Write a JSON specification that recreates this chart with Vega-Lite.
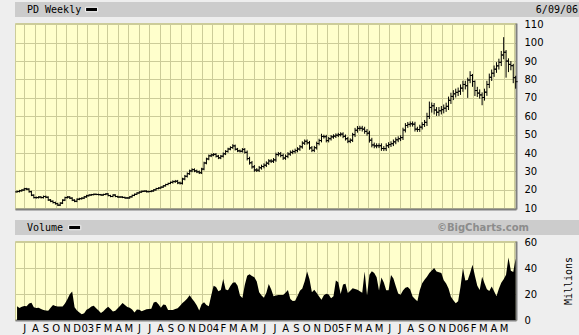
{
"$schema":"https://vega.github.io/schema/vega-lite/v6.json",
"background":"#eeeeee",
"padding":{"left":2,"top":2,"right":2,"bottom":5},
"datasets":{"w":[
{"d":"2002-06-10","o":18.9,"h":19.6,"l":18.4,"c":19.1,"v":10.6},
{"d":"2002-06-17","o":19.1,"h":20.0,"l":18.6,"c":19.5,"v":9.2},
{"d":"2002-06-24","o":19.5,"h":20.4,"l":19.0,"c":19.9,"v":10.3},
{"d":"2002-07-01","o":19.9,"h":21.1,"l":19.4,"c":20.6,"v":10.8},
{"d":"2002-07-08","o":20.6,"h":21.1,"l":19.9,"c":20.4,"v":10.7},
{"d":"2002-07-15","o":20.4,"h":20.9,"l":18.5,"c":19.0,"v":12.8},
{"d":"2002-07-22","o":19.0,"h":19.5,"l":16.6,"c":17.1,"v":13.4},
{"d":"2002-07-29","o":17.1,"h":17.6,"l":15.3,"c":15.8,"v":9.9},
{"d":"2002-08-05","o":15.8,"h":16.4,"l":15.2,"c":15.8,"v":9.2},
{"d":"2002-08-12","o":15.8,"h":16.6,"l":15.3,"c":16.1,"v":9.4},
{"d":"2002-08-19","o":16.1,"h":16.6,"l":15.3,"c":15.8,"v":8.5},
{"d":"2002-08-26","o":15.8,"h":16.9,"l":15.3,"c":16.4,"v":7.7},
{"d":"2002-09-02","o":16.4,"h":16.9,"l":15.5,"c":16.0,"v":7.3},
{"d":"2002-09-09","o":16.0,"h":16.5,"l":14.0,"c":14.5,"v":7.1},
{"d":"2002-09-16","o":14.5,"h":15.0,"l":13.3,"c":13.8,"v":9.4},
{"d":"2002-09-23","o":13.8,"h":14.3,"l":12.6,"c":13.1,"v":11.6},
{"d":"2002-09-30","o":13.1,"h":13.6,"l":12.0,"c":12.5,"v":10.8},
{"d":"2002-10-07","o":12.5,"h":13.0,"l":11.2,"c":11.7,"v":10.5},
{"d":"2002-10-14","o":11.7,"h":13.3,"l":11.2,"c":12.8,"v":10.4},
{"d":"2002-10-21","o":12.8,"h":14.9,"l":12.3,"c":14.4,"v":10.4},
{"d":"2002-10-28","o":14.4,"h":16.3,"l":13.9,"c":15.8,"v":12.8},
{"d":"2002-11-04","o":15.8,"h":16.6,"l":15.3,"c":16.1,"v":16.0},
{"d":"2002-11-11","o":16.1,"h":16.6,"l":15.0,"c":15.5,"v":19.8},
{"d":"2002-11-18","o":15.5,"h":16.0,"l":13.9,"c":14.4,"v":22.0},
{"d":"2002-11-25","o":14.4,"h":14.9,"l":13.3,"c":13.8,"v":9.8},
{"d":"2002-12-02","o":13.8,"h":15.4,"l":13.3,"c":14.9,"v":7.4},
{"d":"2002-12-09","o":14.9,"h":15.7,"l":14.4,"c":15.2,"v":5.8},
{"d":"2002-12-16","o":15.2,"h":16.0,"l":14.7,"c":15.5,"v":4.5},
{"d":"2002-12-23","o":15.5,"h":16.7,"l":15.0,"c":16.2,"v":5.2},
{"d":"2002-12-30","o":16.2,"h":17.3,"l":15.7,"c":16.8,"v":7.9},
{"d":"2003-01-06","o":16.8,"h":17.6,"l":16.4,"c":17.2,"v":8.9},
{"d":"2003-01-13","o":17.2,"h":17.8,"l":16.8,"c":17.4,"v":10.4},
{"d":"2003-01-20","o":17.4,"h":18.0,"l":17.0,"c":17.6,"v":11.0},
{"d":"2003-01-27","o":17.6,"h":18.0,"l":17.1,"c":17.5,"v":9.0},
{"d":"2003-02-03","o":17.5,"h":17.9,"l":17.0,"c":17.4,"v":7.4},
{"d":"2003-02-10","o":17.4,"h":17.8,"l":16.8,"c":17.2,"v":5.4},
{"d":"2003-02-17","o":17.2,"h":17.9,"l":16.8,"c":17.5,"v":6.8},
{"d":"2003-02-24","o":17.5,"h":18.2,"l":17.1,"c":17.8,"v":8.7},
{"d":"2003-03-03","o":17.8,"h":18.2,"l":16.5,"c":16.9,"v":10.2},
{"d":"2003-03-10","o":16.9,"h":17.3,"l":16.0,"c":16.4,"v":8.4},
{"d":"2003-03-17","o":16.4,"h":17.6,"l":16.0,"c":17.2,"v":6.5},
{"d":"2003-03-24","o":17.2,"h":17.6,"l":16.0,"c":16.4,"v":7.2},
{"d":"2003-03-31","o":16.4,"h":16.8,"l":15.7,"c":16.1,"v":9.0},
{"d":"2003-04-07","o":16.1,"h":16.5,"l":15.7,"c":16.1,"v":11.0},
{"d":"2003-04-14","o":16.1,"h":16.5,"l":15.5,"c":15.9,"v":13.2},
{"d":"2003-04-21","o":15.9,"h":16.3,"l":15.2,"c":15.6,"v":11.6},
{"d":"2003-04-28","o":15.6,"h":16.0,"l":15.2,"c":15.6,"v":10.1},
{"d":"2003-05-05","o":15.6,"h":16.6,"l":15.2,"c":16.2,"v":9.5},
{"d":"2003-05-12","o":16.2,"h":17.4,"l":15.8,"c":17.0,"v":8.2},
{"d":"2003-05-19","o":17.0,"h":18.0,"l":16.6,"c":17.6,"v":5.7},
{"d":"2003-05-26","o":17.6,"h":18.7,"l":17.2,"c":18.3,"v":8.1},
{"d":"2003-06-02","o":18.3,"h":19.2,"l":17.9,"c":18.8,"v":8.0},
{"d":"2003-06-09","o":18.8,"h":19.6,"l":18.4,"c":19.2,"v":6.7},
{"d":"2003-06-16","o":19.2,"h":19.7,"l":18.8,"c":19.3,"v":7.6},
{"d":"2003-06-23","o":19.3,"h":19.7,"l":18.6,"c":19.0,"v":8.3},
{"d":"2003-06-30","o":19.0,"h":19.5,"l":18.6,"c":19.1,"v":8.4},
{"d":"2003-07-07","o":19.1,"h":19.8,"l":18.7,"c":19.4,"v":8.7},
{"d":"2003-07-14","o":19.4,"h":20.4,"l":19.0,"c":20.0,"v":13.5},
{"d":"2003-07-21","o":20.0,"h":21.1,"l":19.6,"c":20.7,"v":14.1},
{"d":"2003-07-28","o":20.7,"h":21.4,"l":20.3,"c":21.0,"v":12.1},
{"d":"2003-08-04","o":21.0,"h":21.9,"l":20.6,"c":21.5,"v":9.4},
{"d":"2003-08-11","o":21.5,"h":22.6,"l":21.1,"c":22.2,"v":11.9},
{"d":"2003-08-18","o":22.2,"h":23.3,"l":21.8,"c":22.9,"v":11.6},
{"d":"2003-08-25","o":22.9,"h":23.9,"l":22.5,"c":23.5,"v":7.8},
{"d":"2003-09-01","o":23.5,"h":24.5,"l":23.1,"c":24.1,"v":7.8},
{"d":"2003-09-08","o":24.1,"h":25.2,"l":23.4,"c":24.5,"v":7.8},
{"d":"2003-09-15","o":24.5,"h":25.4,"l":23.8,"c":24.7,"v":8.4},
{"d":"2003-09-22","o":24.7,"h":25.4,"l":23.1,"c":23.8,"v":9.1},
{"d":"2003-09-29","o":23.8,"h":24.5,"l":22.9,"c":23.6,"v":11.0},
{"d":"2003-10-06","o":23.6,"h":26.6,"l":22.9,"c":25.9,"v":13.2},
{"d":"2003-10-13","o":25.9,"h":28.1,"l":25.2,"c":27.4,"v":14.7},
{"d":"2003-10-20","o":27.4,"h":29.5,"l":26.7,"c":28.8,"v":16.6},
{"d":"2003-10-27","o":28.8,"h":31.0,"l":28.1,"c":30.3,"v":19.2},
{"d":"2003-11-03","o":30.3,"h":31.7,"l":29.6,"c":31.0,"v":16.4},
{"d":"2003-11-10","o":31.0,"h":31.7,"l":29.6,"c":30.3,"v":14.0},
{"d":"2003-11-17","o":30.3,"h":31.0,"l":29.1,"c":29.8,"v":11.2},
{"d":"2003-11-24","o":29.8,"h":30.5,"l":28.6,"c":29.3,"v":7.4},
{"d":"2003-12-01","o":29.3,"h":32.0,"l":28.6,"c":31.3,"v":12.1},
{"d":"2003-12-08","o":31.3,"h":35.3,"l":30.6,"c":34.6,"v":13.8},
{"d":"2003-12-15","o":34.6,"h":37.5,"l":33.9,"c":36.8,"v":11.5},
{"d":"2003-12-22","o":36.8,"h":39.2,"l":36.1,"c":38.5,"v":10.6},
{"d":"2003-12-29","o":38.5,"h":39.7,"l":37.8,"c":39.0,"v":19.0},
{"d":"2004-01-05","o":39.0,"h":40.0,"l":38.3,"c":39.3,"v":26.4},
{"d":"2004-01-12","o":39.3,"h":40.0,"l":37.6,"c":38.3,"v":25.4},
{"d":"2004-01-19","o":38.3,"h":39.0,"l":36.7,"c":37.4,"v":22.2},
{"d":"2004-01-26","o":37.4,"h":39.0,"l":36.7,"c":38.3,"v":23.2},
{"d":"2004-02-02","o":38.3,"h":40.3,"l":37.6,"c":39.6,"v":31.7},
{"d":"2004-02-09","o":39.6,"h":41.6,"l":38.9,"c":40.9,"v":23.5},
{"d":"2004-02-16","o":40.9,"h":42.9,"l":40.2,"c":42.2,"v":23.0},
{"d":"2004-02-23","o":42.2,"h":43.7,"l":41.5,"c":43.0,"v":26.2},
{"d":"2004-03-01","o":43.0,"h":44.8,"l":42.3,"c":43.9,"v":28.8},
{"d":"2004-03-08","o":43.9,"h":44.6,"l":41.4,"c":42.1,"v":29.2},
{"d":"2004-03-15","o":42.1,"h":42.8,"l":40.5,"c":41.2,"v":26.5},
{"d":"2004-03-22","o":41.2,"h":41.9,"l":40.3,"c":41.0,"v":18.9},
{"d":"2004-03-29","o":41.0,"h":42.7,"l":40.3,"c":42.0,"v":17.0},
{"d":"2004-04-05","o":42.0,"h":42.7,"l":39.7,"c":40.4,"v":27.0},
{"d":"2004-04-12","o":40.4,"h":41.4,"l":36.0,"c":37.0,"v":34.2},
{"d":"2004-04-19","o":37.0,"h":38.0,"l":33.7,"c":34.7,"v":35.3},
{"d":"2004-04-26","o":34.7,"h":35.7,"l":31.5,"c":32.5,"v":34.0},
{"d":"2004-05-03","o":32.5,"h":33.5,"l":29.8,"c":30.8,"v":33.0},
{"d":"2004-05-10","o":30.8,"h":31.8,"l":29.7,"c":30.7,"v":29.8},
{"d":"2004-05-17","o":30.7,"h":33.0,"l":29.7,"c":32.0,"v":21.4},
{"d":"2004-05-24","o":32.0,"h":33.7,"l":31.0,"c":32.7,"v":18.9},
{"d":"2004-05-31","o":32.7,"h":34.4,"l":31.7,"c":33.4,"v":17.1},
{"d":"2004-06-07","o":33.4,"h":35.5,"l":32.4,"c":34.5,"v":21.0},
{"d":"2004-06-14","o":34.5,"h":36.7,"l":33.5,"c":35.7,"v":27.8},
{"d":"2004-06-21","o":35.7,"h":36.7,"l":34.6,"c":35.6,"v":23.7},
{"d":"2004-06-28","o":35.6,"h":37.3,"l":34.6,"c":36.3,"v":18.3},
{"d":"2004-07-05","o":36.3,"h":40.2,"l":35.3,"c":39.2,"v":18.9},
{"d":"2004-07-12","o":39.2,"h":40.6,"l":38.2,"c":39.6,"v":19.4},
{"d":"2004-07-19","o":39.6,"h":40.6,"l":37.7,"c":38.7,"v":19.4},
{"d":"2004-07-26","o":38.7,"h":39.7,"l":36.3,"c":37.3,"v":19.4},
{"d":"2004-08-02","o":37.3,"h":39.2,"l":36.3,"c":38.2,"v":21.0},
{"d":"2004-08-09","o":38.2,"h":40.5,"l":37.2,"c":39.5,"v":23.2},
{"d":"2004-08-16","o":39.5,"h":41.4,"l":38.5,"c":40.4,"v":16.3},
{"d":"2004-08-23","o":40.4,"h":41.8,"l":39.4,"c":40.8,"v":14.6},
{"d":"2004-08-30","o":40.8,"h":42.4,"l":39.8,"c":41.4,"v":14.8},
{"d":"2004-09-06","o":41.4,"h":43.2,"l":40.4,"c":42.2,"v":18.5},
{"d":"2004-09-13","o":42.2,"h":44.4,"l":41.2,"c":43.4,"v":22.5},
{"d":"2004-09-20","o":43.4,"h":46.4,"l":42.4,"c":45.4,"v":24.3},
{"d":"2004-09-27","o":45.4,"h":47.4,"l":44.4,"c":46.4,"v":30.0},
{"d":"2004-10-04","o":46.4,"h":47.4,"l":44.6,"c":45.6,"v":37.4},
{"d":"2004-10-11","o":45.6,"h":46.6,"l":41.8,"c":42.8,"v":31.5},
{"d":"2004-10-18","o":42.8,"h":43.8,"l":40.5,"c":41.5,"v":21.4},
{"d":"2004-10-25","o":41.5,"h":43.9,"l":40.5,"c":42.9,"v":23.3},
{"d":"2004-11-01","o":42.9,"h":46.2,"l":41.9,"c":45.2,"v":20.8},
{"d":"2004-11-08","o":45.2,"h":47.8,"l":44.2,"c":46.8,"v":18.2},
{"d":"2004-11-15","o":46.8,"h":50.5,"l":45.8,"c":49.0,"v":15.7},
{"d":"2004-11-22","o":49.0,"h":50.0,"l":47.9,"c":48.9,"v":19.1},
{"d":"2004-11-29","o":48.9,"h":49.9,"l":45.8,"c":46.8,"v":20.2},
{"d":"2004-12-06","o":46.8,"h":48.8,"l":45.8,"c":47.8,"v":19.6},
{"d":"2004-12-13","o":47.8,"h":49.8,"l":46.8,"c":48.8,"v":16.8},
{"d":"2004-12-20","o":48.8,"h":50.2,"l":47.8,"c":49.2,"v":18.3},
{"d":"2004-12-27","o":49.2,"h":50.7,"l":48.2,"c":49.7,"v":30.5},
{"d":"2005-01-03","o":49.7,"h":51.0,"l":48.7,"c":50.0,"v":29.2},
{"d":"2005-01-10","o":50.0,"h":51.3,"l":49.0,"c":50.3,"v":20.0},
{"d":"2005-01-17","o":50.3,"h":51.3,"l":48.1,"c":49.1,"v":27.5},
{"d":"2005-01-24","o":49.1,"h":50.1,"l":46.8,"c":47.8,"v":28.0},
{"d":"2005-01-31","o":47.8,"h":48.8,"l":45.4,"c":46.4,"v":20.9},
{"d":"2005-02-07","o":46.4,"h":48.0,"l":45.4,"c":47.0,"v":22.5},
{"d":"2005-02-14","o":47.0,"h":51.0,"l":46.0,"c":50.0,"v":24.6},
{"d":"2005-02-21","o":50.0,"h":53.7,"l":48.7,"c":52.4,"v":24.0},
{"d":"2005-02-28","o":52.4,"h":54.7,"l":51.1,"c":53.4,"v":23.3},
{"d":"2005-03-07","o":53.4,"h":54.8,"l":52.1,"c":53.5,"v":22.2},
{"d":"2005-03-14","o":53.5,"h":54.8,"l":51.7,"c":53.0,"v":21.0},
{"d":"2005-03-21","o":53.0,"h":54.3,"l":50.5,"c":51.8,"v":37.5},
{"d":"2005-03-28","o":51.8,"h":53.1,"l":49.5,"c":50.8,"v":19.0},
{"d":"2005-04-04","o":50.8,"h":52.1,"l":45.7,"c":47.0,"v":35.0},
{"d":"2005-04-11","o":47.0,"h":48.3,"l":43.1,"c":44.4,"v":37.6},
{"d":"2005-04-18","o":44.4,"h":45.7,"l":42.6,"c":43.9,"v":36.2},
{"d":"2005-04-25","o":43.9,"h":45.3,"l":42.6,"c":44.0,"v":33.0},
{"d":"2005-05-02","o":44.0,"h":45.3,"l":42.7,"c":44.0,"v":22.8},
{"d":"2005-05-09","o":44.0,"h":45.3,"l":41.2,"c":42.5,"v":32.8},
{"d":"2005-05-16","o":42.5,"h":43.8,"l":41.1,"c":42.4,"v":29.0},
{"d":"2005-05-23","o":42.4,"h":45.3,"l":41.1,"c":44.0,"v":23.0},
{"d":"2005-05-30","o":44.0,"h":45.9,"l":42.7,"c":44.6,"v":23.0},
{"d":"2005-06-06","o":44.6,"h":46.4,"l":43.3,"c":45.1,"v":34.7},
{"d":"2005-06-13","o":45.1,"h":47.4,"l":43.8,"c":46.1,"v":32.0},
{"d":"2005-06-20","o":46.1,"h":48.5,"l":44.8,"c":47.2,"v":26.1},
{"d":"2005-06-27","o":47.2,"h":49.1,"l":45.9,"c":47.8,"v":20.5},
{"d":"2005-07-04","o":47.8,"h":49.7,"l":46.5,"c":48.4,"v":19.5},
{"d":"2005-07-11","o":48.4,"h":53.8,"l":47.1,"c":52.5,"v":22.7},
{"d":"2005-07-18","o":52.5,"h":56.3,"l":51.2,"c":55.0,"v":24.9},
{"d":"2005-07-25","o":55.0,"h":56.9,"l":53.7,"c":55.6,"v":25.5},
{"d":"2005-08-01","o":55.6,"h":57.2,"l":54.3,"c":55.9,"v":23.6},
{"d":"2005-08-08","o":55.9,"h":57.2,"l":54.4,"c":55.7,"v":18.1},
{"d":"2005-08-15","o":55.7,"h":57.0,"l":51.7,"c":53.0,"v":16.3},
{"d":"2005-08-22","o":53.0,"h":54.3,"l":51.5,"c":52.8,"v":14.4},
{"d":"2005-08-29","o":52.8,"h":55.4,"l":51.5,"c":54.1,"v":22.9},
{"d":"2005-09-05","o":54.1,"h":56.8,"l":52.8,"c":55.5,"v":28.4},
{"d":"2005-09-12","o":55.5,"h":58.0,"l":54.2,"c":56.7,"v":31.0},
{"d":"2005-09-19","o":56.7,"h":61.9,"l":54.7,"c":59.9,"v":33.4},
{"d":"2005-09-26","o":59.9,"h":68.0,"l":58.5,"c":64.8,"v":36.3},
{"d":"2005-10-03","o":64.8,"h":67.5,"l":62.0,"c":65.7,"v":38.2},
{"d":"2005-10-10","o":65.7,"h":67.2,"l":61.0,"c":63.4,"v":40.1},
{"d":"2005-10-17","o":63.4,"h":65.0,"l":60.2,"c":62.2,"v":37.4},
{"d":"2005-10-24","o":62.2,"h":65.0,"l":60.2,"c":63.0,"v":36.8},
{"d":"2005-10-31","o":63.0,"h":65.6,"l":61.0,"c":63.6,"v":36.3},
{"d":"2005-11-07","o":63.6,"h":66.4,"l":61.6,"c":64.4,"v":30.7},
{"d":"2005-11-14","o":64.4,"h":67.4,"l":62.4,"c":65.4,"v":28.2},
{"d":"2005-11-21","o":65.4,"h":70.7,"l":63.4,"c":68.7,"v":24.4},
{"d":"2005-11-28","o":68.7,"h":72.8,"l":66.7,"c":70.8,"v":18.0},
{"d":"2005-12-05","o":70.8,"h":74.2,"l":68.8,"c":72.2,"v":15.2},
{"d":"2005-12-12","o":72.2,"h":75.0,"l":70.2,"c":73.0,"v":13.0},
{"d":"2005-12-19","o":73.0,"h":75.6,"l":71.0,"c":73.6,"v":14.5},
{"d":"2005-12-26","o":73.6,"h":77.3,"l":71.6,"c":75.3,"v":25.6},
{"d":"2006-01-02","o":75.3,"h":79.3,"l":73.3,"c":77.3,"v":40.0},
{"d":"2006-01-09","o":77.3,"h":79.3,"l":74.6,"c":76.6,"v":30.5},
{"d":"2006-01-16","o":76.6,"h":81.0,"l":70.0,"c":79.7,"v":30.8},
{"d":"2006-01-23","o":79.7,"h":84.5,"l":78.0,"c":82.2,"v":36.3},
{"d":"2006-01-30","o":82.2,"h":83.0,"l":76.0,"c":78.9,"v":42.6},
{"d":"2006-02-06","o":78.9,"h":79.5,"l":71.0,"c":74.0,"v":34.1},
{"d":"2006-02-13","o":74.0,"h":76.0,"l":70.5,"c":72.6,"v":26.4},
{"d":"2006-02-20","o":72.6,"h":74.6,"l":69.6,"c":71.6,"v":23.2},
{"d":"2006-02-27","o":71.6,"h":73.0,"l":66.0,"c":70.2,"v":33.3},
{"d":"2006-03-06","o":70.2,"h":75.0,"l":68.5,"c":73.1,"v":28.4},
{"d":"2006-03-13","o":73.1,"h":79.3,"l":71.1,"c":77.3,"v":23.7},
{"d":"2006-03-20","o":77.3,"h":83.2,"l":75.3,"c":81.2,"v":22.3},
{"d":"2006-03-27","o":81.2,"h":85.4,"l":79.2,"c":83.4,"v":25.9},
{"d":"2006-04-03","o":83.4,"h":87.6,"l":81.4,"c":85.6,"v":22.2},
{"d":"2006-04-10","o":85.6,"h":89.4,"l":83.6,"c":87.4,"v":18.4},
{"d":"2006-04-17","o":87.4,"h":91.3,"l":85.4,"c":89.3,"v":24.1},
{"d":"2006-04-24","o":89.3,"h":95.5,"l":87.3,"c":93.3,"v":28.8},
{"d":"2006-05-01","o":93.3,"h":103.0,"l":91.0,"c":94.8,"v":31.5},
{"d":"2006-05-08","o":94.8,"h":96.0,"l":81.0,"c":90.0,"v":35.0},
{"d":"2006-05-15","o":90.0,"h":91.5,"l":84.0,"c":88.2,"v":48.3},
{"d":"2006-05-22","o":88.2,"h":90.0,"l":85.0,"c":87.5,"v":38.0},
{"d":"2006-05-29","o":87.5,"h":88.5,"l":78.0,"c":81.0,"v":37.0},
{"d":"2006-06-05","o":81.0,"h":82.0,"l":75.0,"c":78.8,"v":47.5}
]},
"spacing":1,
"resolve":{"scale":{"x":"independent","y":"independent"}},
"vconcat":[
{
"width":575,"height":15,
"view":{"fill":"#cccccc","stroke":null},
"data":{"values":[{"p":0,"q":1,"t":"PD Weekly","s":"6/09/06"}]},
"layer":[
{"mark":{"type":"text","align":"left","dx":12,"font":"DejaVu Sans Mono","fontSize":10,"color":"#000000"},
 "encoding":{"x":{"field":"p","type":"quantitative","scale":{"domain":[0,1]},"axis":null},"text":{"field":"t"}}},
{"mark":{"type":"text","align":"right","dx":-12,"font":"DejaVu Sans Mono","fontSize":10,"color":"#000000"},
 "encoding":{"x":{"field":"q","type":"quantitative","scale":{"domain":[0,1]},"axis":null},"text":{"field":"s"}}},
{"mark":{"type":"point","shape":"M-1,-0.36H1V0.36H-1Z","size":144,"filled":true,"fill":"#000000","stroke":"#ffffff","strokeWidth":1,"opacity":1,"xOffset":76.6},
 "encoding":{"x":{"field":"p","type":"quantitative","scale":{"domain":[0,1]},"axis":null}}}
]
},
{
"width":501,"height":186,
"view":{"fill":"#ffffcc","stroke":"#cccc99"},
"data":{"name":"w"},
"encoding":{"x":{"field":"d","type":"temporal",
  "scale":{"type":"utc","domain":[{"year":2002,"month":6,"date":4,"utc":true},{"year":2006,"month":6,"date":6,"utc":true}]},
  "axis":{"orient":"bottom","grid":true,"gridColor":"#cccc99","gridOpacity":1,"labels":false,"ticks":false,"domain":true,"domainColor":"#808080","domainWidth":2,"title":null,"tickCount":{"interval":"month","step":1},"minExtent":9,"maxExtent":9}}},
"layer":[
{"mark":{"type":"rule","color":"#000000","strokeWidth":1},
 "encoding":{"y":{"field":"l","type":"quantitative","scale":{"domain":[9.6,110.7],"nice":false,"zero":false},
   "axis":{"orient":"left","labels":false,"ticks":true,"tickOpacity":0,"tickSize":1,"domain":false,"grid":false,"title":null,"minExtent":12,"maxExtent":12}},
  "y2":{"field":"h"}}},
{"mark":{"type":"rule","color":"#000000","strokeWidth":1,"x2Offset":2},
 "encoding":{"x2":{"field":"d"},"y":{"field":"c","type":"quantitative","scale":{"domain":[9.6,110.7],"nice":false,"zero":false},
   "axis":{"orient":"right","values":[10,20,30,40,50,60,70,80,90,100,110],"grid":true,"gridColor":"#cccc99","gridOpacity":1,"ticks":false,"domain":true,"domainColor":"#808080","domainWidth":2,"labelPadding":8,"labelFont":"DejaVu Sans","labelFontSize":10,"labelColor":"#000000","title":null}}}},
{"mark":{"type":"rule","color":"#000000","strokeWidth":1,"xOffset":-2},
 "encoding":{"x2":{"field":"d"},"y":{"field":"o","type":"quantitative","scale":{"domain":[9.6,110.7],"nice":false,"zero":false},"axis":null}}}
],
"resolve":{"axis":{"y":"independent"}}
},
{
"width":575,"height":15,
"view":{"fill":"#cccccc","stroke":null},
"data":{"values":[{"p":0,"q":1,"t":"Volume","s":"©BigCharts.com"}]},
"layer":[
{"mark":{"type":"text","align":"left","dx":12,"font":"DejaVu Sans Mono","fontSize":10,"color":"#000000"},
 "encoding":{"x":{"field":"p","type":"quantitative","scale":{"domain":[0,1]},"axis":null},"text":{"field":"t"}}},
{"mark":{"type":"text","align":"right","dx":-61,"font":"DejaVu Sans","fontWeight":"bold","fontSize":10,"color":"#8c8c8c"},
 "encoding":{"x":{"field":"q","type":"quantitative","scale":{"domain":[0,1]},"axis":null},"text":{"field":"s"}}},
{"mark":{"type":"point","shape":"M-1,-0.36H1V0.36H-1Z","size":144,"filled":true,"fill":"#000000","stroke":"#ffffff","strokeWidth":1,"opacity":1,"xOffset":59.7},
 "encoding":{"x":{"field":"p","type":"quantitative","scale":{"domain":[0,1]},"axis":null}}}
]
},
{
"width":501,"height":79,
"view":{"fill":"#ffffcc","stroke":"#cccc99"},
"data":{"name":"w"},
"encoding":{"x":{"field":"d","type":"temporal",
  "scale":{"type":"utc","domain":[{"year":2002,"month":6,"date":4,"utc":true},{"year":2006,"month":6,"date":6,"utc":true}]},
  "axis":{"orient":"bottom","grid":true,"gridColor":"#cccc99","gridOpacity":1,"ticks":false,"domain":true,"domainColor":"#808080","domainWidth":2,"title":null,"tickCount":{"interval":"month","step":1},
   "labelExpr":"utcFormat(datum.value,'%m')=='01' ? utcFormat(datum.value,'%y') : (datum.value >= utc(2006,5,1) ? '' : slice(utcFormat(datum.value,'%b'),0,1))",
   "labelPadding":3,"labelFont":"DejaVu Sans","labelFontSize":10,"labelColor":"#000000","labelOverlap":false,"labelFlush":false,"labelBound":false}}},
"layer":[
{"mark":{"type":"area","color":"#000000","interpolate":"linear"},
 "encoding":{"y":{"field":"v","type":"quantitative","scale":{"domain":[0,61],"nice":false,"zero":true},
   "axis":{"orient":"right","values":[0,20,40,60],"grid":true,"gridColor":"#cccc99","gridOpacity":1,"ticks":false,"domain":true,"domainColor":"#808080","domainWidth":2,"labelPadding":8,"labelFont":"DejaVu Sans","labelFontSize":10,"labelColor":"#000000",
    "title":"Millions","titleFont":"DejaVu Sans Mono","titleFontSize":10,"titleFontWeight":"normal","titleColor":"#000000","titleAngle":270,"titleBaseline":"top","titlePadding":26,"minExtent":21,"maxExtent":21}}}},
{"mark":{"type":"point","opacity":0},
 "encoding":{"y":{"field":"v","type":"quantitative","scale":{"domain":[0,61],"nice":false,"zero":true},
   "axis":{"orient":"left","labels":false,"ticks":true,"tickOpacity":0,"tickSize":1,"domain":false,"grid":false,"title":null,"minExtent":12,"maxExtent":12}}}}
],
"resolve":{"axis":{"y":"independent"}}
}
]
}
